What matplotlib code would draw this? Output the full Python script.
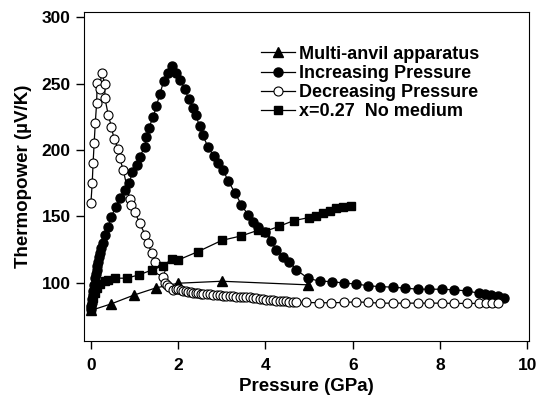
import numpy as np
import matplotlib
matplotlib.use("Agg")
import matplotlib.pyplot as plt

plt.rcParams['font.family'] = ['Liberation Sans', 'DejaVu Sans']
plt.rcParams['font.weight'] = 'bold'

# Multi-anvil apparatus
p_anvil = [0.0, 0.47, 0.98, 1.49, 2.0, 3.0, 4.97]
s_anvil = [79, 84, 90.5, 96, 99.5, 101, 98.3]

# Increasing pressure
p_inc = [0.0, 0.01, 0.02, 0.03, 0.04, 0.05, 0.07, 0.09, 0.11, 0.13, 0.15, 0.17, 0.19,
         0.21, 0.24, 0.27, 0.32, 0.40, 0.47, 0.57,
         0.66, 0.78, 0.88, 0.95, 1.05, 1.12, 1.24, 1.27, 1.33, 1.43, 1.50, 1.58, 1.67,
         1.77, 1.87, 1.96, 2.05, 2.15, 2.25, 2.34, 2.40, 2.49, 2.56, 2.68, 2.81, 2.91,
         3.03, 3.14, 3.30, 3.45, 3.60, 3.71, 3.83, 3.98, 4.13, 4.25, 4.40, 4.55, 4.71,
         4.97, 5.25, 5.52, 5.81, 6.08, 6.36, 6.63, 6.92, 7.21, 7.49, 7.76, 8.05, 8.33,
         8.62, 8.89, 9.04, 9.17, 9.32, 9.47]
s_inc = [80, 82.5, 84.5, 87.5, 90.7, 94, 98.5, 103.3, 106.5, 109.6, 112.5, 115.8, 119,
         122, 126, 129.7, 136, 142.2, 149.7, 157.3,
         163.6, 170, 175, 183.6, 188.7, 195, 202.5, 210, 216.8, 225, 233, 242, 252,
         258, 263.5, 258, 252.8, 245.7, 238, 231.4, 226.4, 218, 211.3, 202.5, 195.5, 190,
         185, 176.9, 167.8, 158.6, 151, 146, 142.2, 138.4, 131, 124.6, 119.6, 115.8, 109.6,
         103.3, 101, 100.8, 99.5, 99, 97.5, 97, 96.5, 95.8, 95, 95, 95, 94.5,
         93.7, 92, 91.5, 90.7, 90, 88.3]

# Decreasing pressure (plotted from 0 GPa upward)
p_dec = [0.0, 0.03, 0.05, 0.075, 0.10, 0.13, 0.145, 0.20, 0.245, 0.32, 0.32, 0.40,
         0.47, 0.53, 0.625, 0.66, 0.74, 0.89, 0.93, 1.0, 1.12, 1.24, 1.31, 1.39, 1.46,
         1.58, 1.65, 1.69, 1.75, 1.80, 1.88, 1.94, 2.0, 2.06, 2.11, 2.17, 2.23, 2.29,
         2.34, 2.40, 2.46, 2.52, 2.57, 2.65, 2.72, 2.80, 2.88, 2.95,
         3.03, 3.10, 3.18, 3.26, 3.33, 3.41, 3.49, 3.56, 3.64, 3.72, 3.79, 3.87, 3.94,
         4.02, 4.10, 4.17, 4.25, 4.33, 4.40, 4.48, 4.55, 4.63, 4.71, 4.94,
         5.22, 5.51, 5.81, 6.08, 6.36, 6.63, 6.92, 7.21, 7.49, 7.76, 8.05, 8.33, 8.61,
         8.90, 9.05, 9.19, 9.32]
s_dec = [160, 175, 190, 205.5, 220, 235, 250.3, 245.7, 258, 250, 239, 226,
         217.5, 208, 201, 193.7, 185, 162.8, 158.5, 153.5, 144.8, 136, 129.7, 122, 115.8,
         109.6, 104.5, 100, 98.5, 97, 94.5, 95, 95, 94.5, 94, 93.6, 93.2, 92.8,
         92.5, 92.2, 92, 91.7, 91.5, 91.3, 91.2, 91, 90.7, 90.3,
         90, 90, 90, 89.8, 89.5, 89.5, 89.5, 89.2, 89, 88.6, 88.2, 87.8, 87.5,
         87.2, 87, 86.7, 86.4, 86.3, 86.2, 86, 85.7, 85.5, 85.2, 85,
         84.8, 84.8, 85, 85.5, 85, 84.5, 84.5, 84.5, 84.5, 84.5, 84.5, 84.3, 84.3,
         84.3, 84.3, 84.3, 84.3]

# x=0.27, no medium
p_nm = [0.0, 0.05, 0.10, 0.15, 0.20, 0.32, 0.40, 0.55, 0.82, 1.10, 1.41, 1.65, 1.85,
        2.0, 2.46, 3.0, 3.45, 3.83, 3.98, 4.32, 4.65, 5.0, 5.16, 5.32, 5.47, 5.62,
        5.77, 5.97]
s_nm = [80, 88, 92, 96, 99, 101, 102, 103.3, 103.3, 105.8, 109.6, 112.6, 117.6,
        117, 123.4, 131.8, 135.2, 139.4, 138.4, 142.5, 146.7, 149, 150.5, 152.3, 154.3, 156,
        157.3, 157.8]

fig = plt.figure(figsize=(5.38, 3.96), dpi=100)
ax = fig.add_axes([0.156, 0.139, 0.828, 0.831])

ax.plot(p_anvil, s_anvil, color='black', lw=0.9, marker='^', ms=6.5,
        label='Multi-anvil apparatus')
ax.plot(p_inc, s_inc, color='black', lw=0.9, marker='o', ms=6.5,
        label='Increasing Pressure')
ax.plot(p_dec, s_dec, color='black', lw=0.9, marker='o', ms=6.5, mfc='white',
        mew=0.8, label='Decreasing Pressure')
ax.plot(p_nm, s_nm, color='black', lw=0.9, marker='s', ms=6,
        label='x=0.27  No medium')

ax.set_xlim(-0.16, 10.05)
ax.set_ylim(56, 304)
ax.set_xticks([0, 2, 4, 6, 8, 10])
ax.set_yticks([100, 150, 200, 250, 300])
ax.tick_params(direction='out', length=6, width=1, labelsize=12.5)
ax.tick_params(axis='x', pad=6)
for lab in ax.get_xticklabels() + ax.get_yticklabels():
    lab.set_fontweight('bold')

ax.set_xlabel('Pressure (GPa)', fontsize=13.5, fontweight='bold', labelpad=4)
ax.set_ylabel('Thermopower (\u00b5V/K)', fontsize=13.5, fontweight='bold', labelpad=7)

ax.legend(loc='upper left', bbox_to_anchor=(0.397, 0.897), frameon=False,
          handlelength=1.9, handletextpad=0.2, labelspacing=0.12,
          borderaxespad=0, borderpad=0, prop={'weight': 'bold', 'size': 13})

fig.savefig('out.png', dpi=100)
